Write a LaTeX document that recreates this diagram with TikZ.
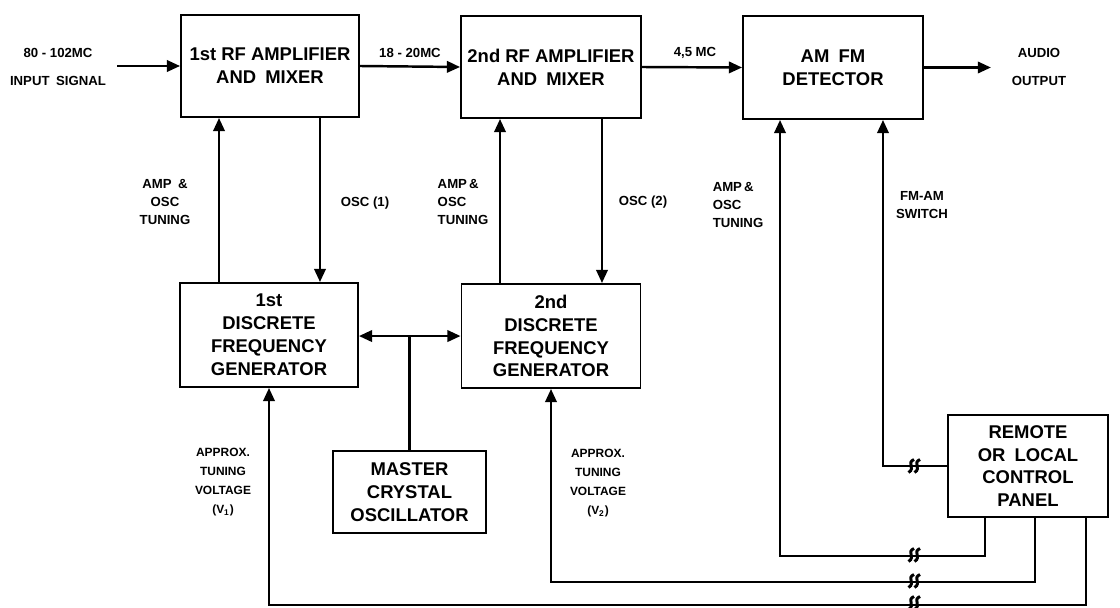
\documentclass[tikz,border=0pt]{standalone}
\usepackage{fontspec}
\setmainfont{Liberation Sans}
\usetikzlibrary{arrows.meta,calc}
\tikzset{
  blk/.style ={draw, line width=1.1pt, align=center, inner sep=2pt,
               font=\fontsize{10.5}{13}\selectfont\bfseries},
  lbl/.style ={align=center, inner sep=1pt,
               font=\fontsize{7.5}{10.5}\selectfont\bfseries},
  slbl/.style={lbl, font=\fontsize{6.8}{10.8}\selectfont\bfseries},
  arr/.style ={-{Triangle[length=7.5pt,width=6.5pt]}, line width=1.4pt},
  wire/.style={line width=1.4pt},
  brk/.pic={
    \draw[line width=1.7pt] (0,-6.5) .. controls (-8,-3) and (2,2) .. (-5.5,6.5);
    \draw[line width=1.7pt] (6,-6.5) .. controls (-2,-3) and (8,2) .. (0.5,6.5);
  },
}

\begin{document}
\begin{tikzpicture}[x=0.02cm, y=-0.02cm]
\useasboundingbox (0,0) rectangle (1120,608);

% blocks
\node[blk, minimum width=3.56cm, minimum height=2.04cm] (rfa) at (270,66)
  {1st RF AMPLIFIER\\AND\enspace MIXER};
\node[blk, minimum width=3.6cm, minimum height=2.04cm] (rfb) at (551,67)
  {2nd RF AMPLIFIER\\AND\enspace MIXER};
\node[blk, minimum width=3.6cm, minimum height=2.06cm] (det) at (833,67.5)
  {AM\enspace FM\\DETECTOR};
\node[blk, minimum width=3.56cm, minimum height=2.08cm] (dfa) at (269,335)
  {1st\\DISCRETE\\FREQUENCY\\GENERATOR};
\node[blk, minimum width=3.58cm, minimum height=2.08cm] (dfb) at (551,336)
  {2nd\\DISCRETE\\FREQUENCY\\GENERATOR};
\node[blk, minimum width=3.06cm, minimum height=1.64cm] (mco) at (409.5,492)
  {MASTER\\CRYSTAL\\OSCILLATOR};
\node[blk, minimum width=3.2cm, minimum height=2.04cm] (ctl) at (1028,466)
  {REMOTE\\OR\enspace LOCAL\\CONTROL\\PANEL};

% signal path
\coordinate (in) at (117,66);
\draw[arr] (in) -- (rfa.west);
\draw[arr] (rfa.east) -- (rfb.west);
\draw[arr] (rfb.east) -- (det.west);
\draw[arr] (det.east) -- ++(67,0) coordinate (out);

\node[lbl] (inlbl) at (58,67) {80 - 102MC\\[5pt]INPUT\enspace SIGNAL};
\node[lbl] (ifalbl) at (410,53) {18 - 20MC};
\node[lbl] (ifblbl) at (695,53) {4,5 MC};
\node[lbl] (outlbl) at (1039,67) {AUDIO\\[5pt]OUTPUT};

% tuning and oscillator links
\draw[arr] ([xshift=-1cm]dfa.north) coordinate (ta) -- (ta |- rfa.south);
\draw[arr] ([xshift=1cm]rfa.south) coordinate (oa) -- (oa |- dfa.north);
\draw[arr] ([xshift=-1.02cm]dfb.north) coordinate (tb) -- (tb |- rfb.south);
\draw[arr] ([xshift=1.02cm]rfb.south) coordinate (ob) -- (ob |- dfb.north);

\node[lbl] (talbl) at (165,202) {AMP\enspace\&\\OSC\\TUNING};
\node[lbl] (oalbl) at (365,203) {OSC (1)};
\node[lbl, align=left] (tblbl) at (463,202) {AMP\,\&\\OSC\\TUNING};
\node[lbl] (oblbl) at (643,202) {OSC (2)};
\node[lbl, align=left] (tclbl) at (738,205) {AMP\,\&\\OSC\\TUNING};
\node[lbl] (fslbl) at (922,205) {FM-AM\\SWITCH};

% master crystal oscillator feed
\draw[wire] (mco.north) -- ++(0,-114) coordinate (jn);
\draw[arr] (jn) -- (jn -| dfa.east);
\draw[arr] (jn) -- (jn -| dfb.west);

% control panel lines
\draw[arr] (ctl.west) -| ([xshift=1cm]det.south);
\draw[arr] ([xshift=-0.86cm]ctl.south) -- ++(0,38) -| ([xshift=-1.06cm]det.south);
\draw[arr] ([xshift=0.14cm]ctl.south) -- ++(0,64) -| (dfb.south);
\draw[arr] ([xshift=1.16cm]ctl.south) -- ++(0,87) -| (dfa.south);

\pic at (914,466) {brk};
\pic at (914,555) {brk};
\pic at (914,581) {brk};
\pic at (914,603) {brk};

\node[slbl] (valbl) at (223,482) {APPROX.\\TUNING\\VOLTAGE\\(V\textsubscript{1})};
\node[slbl] (vblbl) at (598,483) {APPROX.\\TUNING\\VOLTAGE\\(V\textsubscript{2})};

\end{tikzpicture}
\end{document}
